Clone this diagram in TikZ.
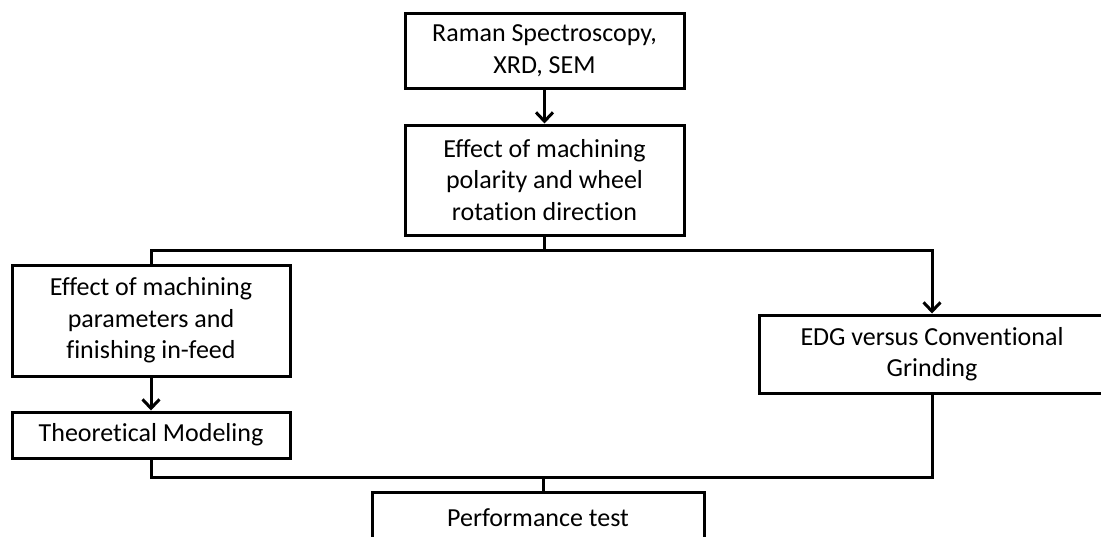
\documentclass[tikz,border=0pt]{standalone}
\usepackage{fontspec}
\setmainfont{Carlito}[Ligatures=NoCommon]
\usetikzlibrary{arrows.meta}
\begin{document}
\begin{tikzpicture}[x=1pt,y=-1pt,
  box/.style={draw=black,line width=3pt,align=center,inner sep=0pt,
    font=\fontsize{26}{31.5}\selectfont,text=black},
  conn/.style={line width=3pt,draw=black},
  arr/.style={conn,-{Straight Barb[length=9pt,width=17pt]}}]
\useasboundingbox (0,0) rectangle (1101,536);
\clip (0,0) rectangle (1101,536);
\node[box,minimum width=279pt,minimum height=75pt] (raman) at (544.5,50.5) {Raman Spectroscopy,\\XRD, SEM};
\node[box,minimum width=279pt,minimum height=110pt] (polar) at (544.5,180) {Effect of machining\\polarity and wheel\\rotation direction};
\node[box,minimum width=278pt,minimum height=111pt] (param) at (151,320.5) {Effect of machining\\parameters and\\finishing in-feed};
\node[box,minimum width=278pt,minimum height=46pt] (theo) at (151,435) {Theoretical Modeling};
\node[box,minimum width=346pt,minimum height=78pt] (edg) at (932,354) {EDG versus Conventional\\Grinding};
\node[box,minimum width=332pt,minimum height=52pt] (perf) at (538,518) {Performance test};
\coordinate (topj) at (544.5,250);
\coordinate (botj) at (543,477);
\draw[arr] (raman.south) -- (polar.north);
\draw[conn] (polar.south) -- (topj);
\draw[conn] (topj) -| (param.north);
\draw[arr] (topj) -| (edg.north);
\draw[arr] (param.south) -- (theo.north);
\draw[conn] (theo.south) |- (botj);
\draw[conn] (botj) -| (edg.south);
\draw[conn] (botj) -- (botj |- perf.north);
\end{tikzpicture}
\end{document}
